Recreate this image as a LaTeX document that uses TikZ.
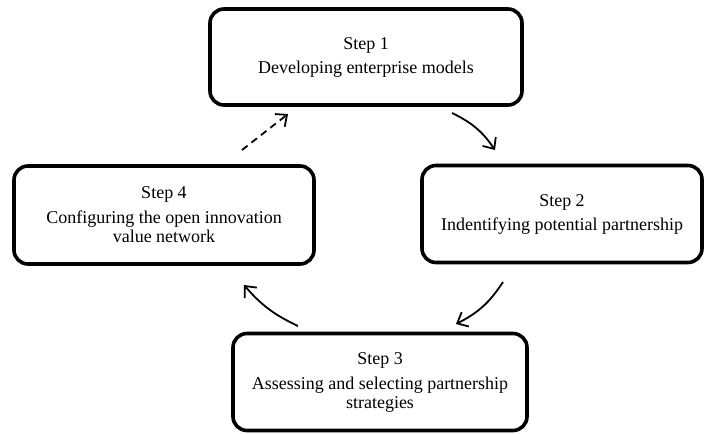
\documentclass[tikz,border=0pt]{standalone}
\usepackage{fontspec}
\setmainfont{Liberation Serif}
\usetikzlibrary{arrows.meta}
\begin{document}
\begin{tikzpicture}[x=1pt,y=-1pt,
  stepbox/.style={draw=black, line width=3.6pt, rounded corners=14pt, align=center,
    font=\fontsize{18}{19}\selectfont, inner sep=0pt},
  flow/.style={line width=1.8pt, -{Straight Barb[length=9pt,width=16pt,line width=1.8pt]}},
  ]
\useasboundingbox (0,0) rectangle (705,434);
\node[stepbox, minimum width=312pt, minimum height=96pt] (s1) at (366,57)
  {Step 1\\[5pt]Developing enterprise models};
\node[stepbox, minimum width=280pt, minimum height=97pt] (s2) at (562,214)
  {Step 2\\[5pt]Indentifying potential partnership};
\node[stepbox, minimum width=294pt, minimum height=97pt] (s3) at (380,382)
  {Step 3\\[6pt]Assessing and selecting partnership\\strategies};
\node[stepbox, minimum width=300pt, minimum height=98pt] (s4) at (164,215)
  {Step 4\\[6pt]Configuring the open innovation\\value network};
\coordinate (a1s) at (452,113);
\coordinate (a1e) at (495,150);
\coordinate (a2s) at (503,282);
\coordinate (a2e) at (456,324);
\coordinate (a3s) at (298,326);
\coordinate (a3e) at (244,285);
\coordinate (a4s) at (242,150);
\coordinate (a4e) at (288,114);
\draw[flow] (a1s) to[bend left=15] (a1e);
\draw[flow] (a2s) to[bend left=15] (a2e);
\draw[flow] (a3s) to[bend left=12] (a3e);
\draw[flow, dash pattern=on 7pt off 5pt] (a4s) -- (a4e);
\end{tikzpicture}
\end{document}
